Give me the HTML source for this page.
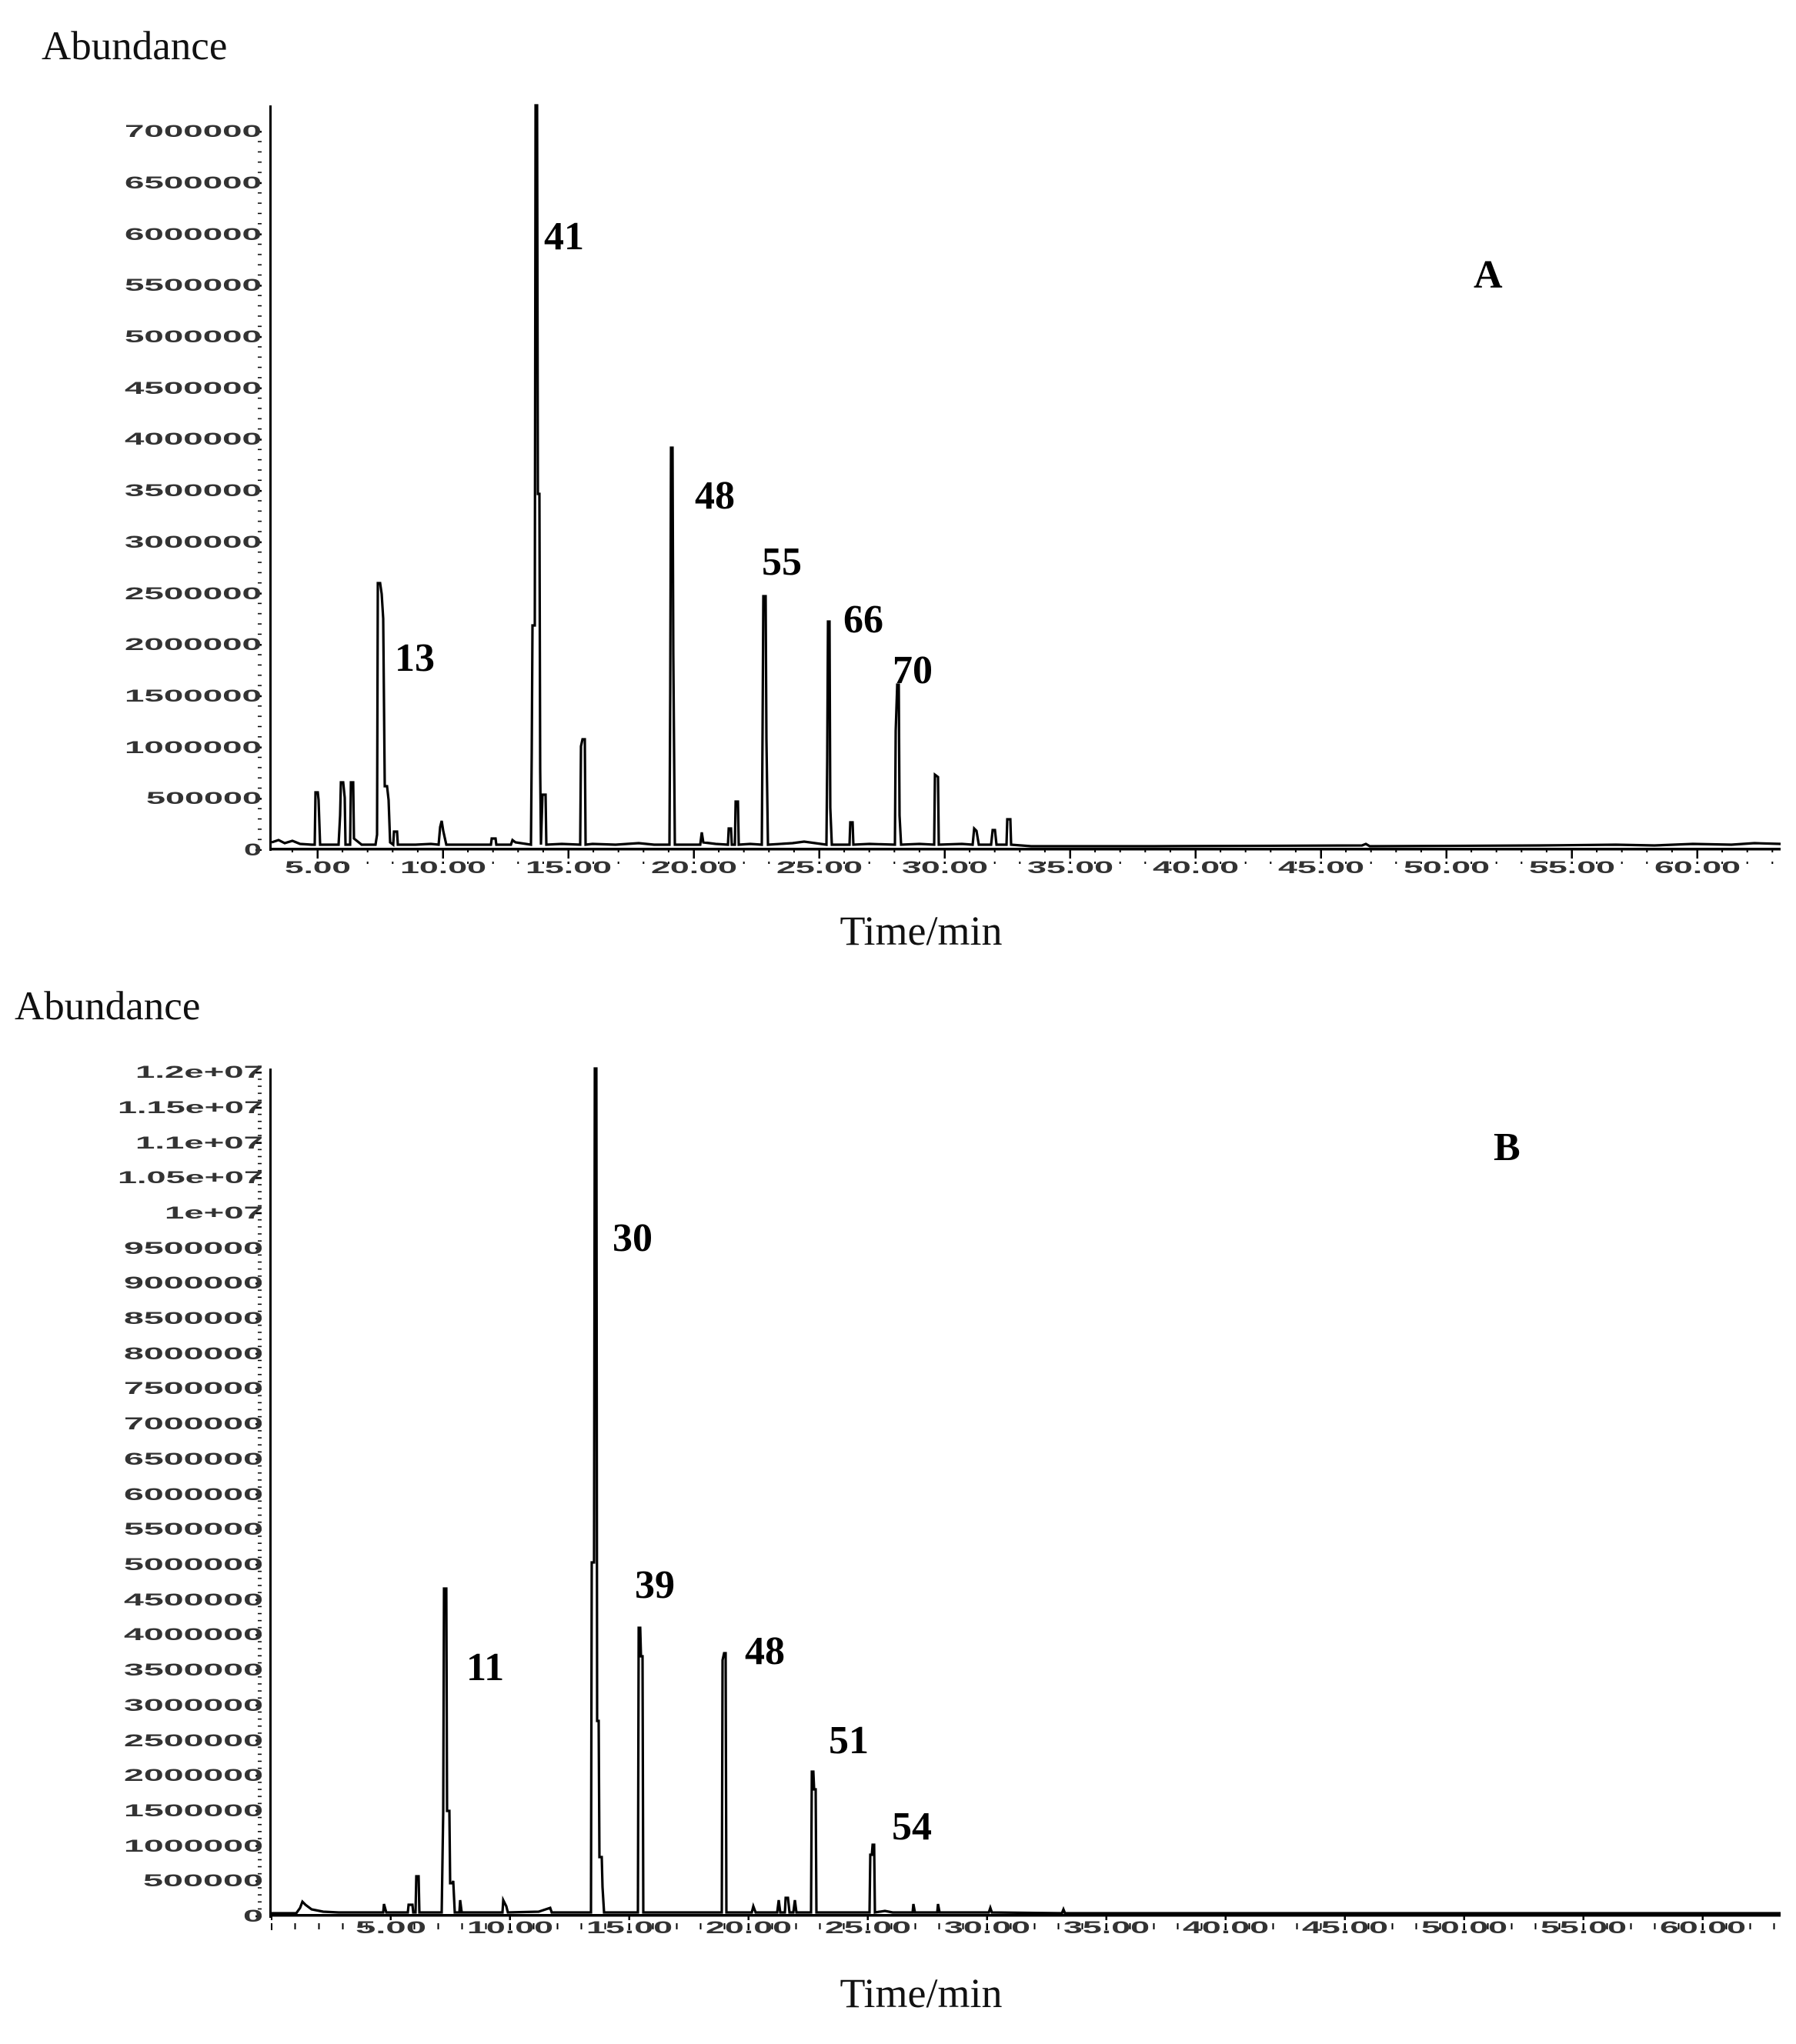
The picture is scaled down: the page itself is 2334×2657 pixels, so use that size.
<!DOCTYPE html>
<html><head><meta charset="utf-8"><style>
html,body{margin:0;padding:0;background:#fff;}
svg{display:block;}
.yl{font-family:"Liberation Sans",sans-serif;font-size:22px;font-weight:bold;fill:#333;text-anchor:end;}
.xl{font-family:"Liberation Sans",sans-serif;font-size:22px;font-weight:bold;fill:#333;text-anchor:middle;}
.ab{font-family:"Liberation Serif",serif;font-size:53px;fill:#111;}
.tm{font-family:"Liberation Serif",serif;font-size:54px;fill:#111;text-anchor:middle;}
.pk{font-family:"Liberation Serif",serif;font-size:52px;font-weight:bold;fill:#000;}
</style></head><body>
<svg width="2334" height="2657" viewBox="0 0 2334 2657" xmlns="http://www.w3.org/2000/svg">
<defs>
<pattern id="ayt" x="0" y="170" width="20" height="66.7" patternUnits="userSpaceOnUse">
<rect x="10" y="0" width="10" height="2.5" fill="#000"/>
<rect x="15" y="13.34" width="5" height="1.5" fill="#000"/>
<rect x="15" y="26.68" width="5" height="1.5" fill="#000"/>
<rect x="15" y="40.02" width="5" height="1.5" fill="#000"/>
<rect x="15" y="53.36" width="5" height="1.5" fill="#000"/>
</pattern>
<pattern id="axt" x="411.5" y="0" width="163" height="20" patternUnits="userSpaceOnUse">
<rect x="0" y="0" width="2.5" height="16" fill="#000"/>
<rect x="32.6" y="0" width="2" height="8" fill="#000"/>
<rect x="65.2" y="0" width="2" height="8" fill="#000"/>
<rect x="97.8" y="0" width="2" height="8" fill="#000"/>
<rect x="130.4" y="0" width="2" height="8" fill="#000"/>
</pattern>
<pattern id="byt" x="0" y="1393" width="20" height="45.7" patternUnits="userSpaceOnUse">
<rect x="10" y="0" width="10" height="2.5" fill="#000"/>
<rect x="15" y="9.14" width="5" height="1.5" fill="#000"/>
<rect x="15" y="18.28" width="5" height="1.5" fill="#000"/>
<rect x="15" y="27.42" width="5" height="1.5" fill="#000"/>
<rect x="15" y="36.56" width="5" height="1.5" fill="#000"/>
</pattern>
<pattern id="bxt" x="351.5" y="0" width="155" height="20" patternUnits="userSpaceOnUse">
<rect x="0" y="0" width="2.5" height="16" fill="#000"/>
<rect x="31" y="0" width="2" height="8" fill="#000"/>
<rect x="62" y="0" width="2" height="8" fill="#000"/>
<rect x="93" y="0" width="2" height="8" fill="#000"/>
<rect x="124" y="0" width="2" height="8" fill="#000"/>
</pattern>
</defs>

<!-- ===== Chart A ===== -->
<text class="ab" x="54" y="77">Abundance</text>
<rect x="332" y="160" width="20" height="946" fill="url(#ayt)"/>
<rect x="350" y="137" width="3" height="969" fill="#000"/>
<rect x="350" y="1102" width="1964" height="3.5" fill="#000"/>
<rect x="352" y="1105" width="1962" height="18" fill="url(#axt)"/>

<text class="yl" x="340" y="1112" textLength="23" lengthAdjust="spacingAndGlyphs">0</text>
<text class="yl" x="340" y="1045" textLength="150" lengthAdjust="spacingAndGlyphs">500000</text>
<text class="yl" x="340" y="979" textLength="178" lengthAdjust="spacingAndGlyphs">1000000</text>
<text class="yl" x="340" y="912" textLength="178" lengthAdjust="spacingAndGlyphs">1500000</text>
<text class="yl" x="340" y="845" textLength="178" lengthAdjust="spacingAndGlyphs">2000000</text>
<text class="yl" x="340" y="779" textLength="178" lengthAdjust="spacingAndGlyphs">2500000</text>
<text class="yl" x="340" y="712" textLength="178" lengthAdjust="spacingAndGlyphs">3000000</text>
<text class="yl" x="340" y="645" textLength="178" lengthAdjust="spacingAndGlyphs">3500000</text>
<text class="yl" x="340" y="578" textLength="178" lengthAdjust="spacingAndGlyphs">4000000</text>
<text class="yl" x="340" y="512" textLength="178" lengthAdjust="spacingAndGlyphs">4500000</text>
<text class="yl" x="340" y="445" textLength="178" lengthAdjust="spacingAndGlyphs">5000000</text>
<text class="yl" x="340" y="378" textLength="178" lengthAdjust="spacingAndGlyphs">5500000</text>
<text class="yl" x="340" y="312" textLength="178" lengthAdjust="spacingAndGlyphs">6000000</text>
<text class="yl" x="340" y="245" textLength="178" lengthAdjust="spacingAndGlyphs">6500000</text>
<text class="yl" x="340" y="178" textLength="178" lengthAdjust="spacingAndGlyphs">7000000</text>

<text class="xl" x="413" y="1135" textLength="86" lengthAdjust="spacingAndGlyphs">5.00</text>
<text class="xl" x="576" y="1135" textLength="112" lengthAdjust="spacingAndGlyphs">10.00</text>
<text class="xl" x="739" y="1135" textLength="112" lengthAdjust="spacingAndGlyphs">15.00</text>
<text class="xl" x="902" y="1135" textLength="112" lengthAdjust="spacingAndGlyphs">20.00</text>
<text class="xl" x="1065" y="1135" textLength="112" lengthAdjust="spacingAndGlyphs">25.00</text>
<text class="xl" x="1228" y="1135" textLength="112" lengthAdjust="spacingAndGlyphs">30.00</text>
<text class="xl" x="1391" y="1135" textLength="112" lengthAdjust="spacingAndGlyphs">35.00</text>
<text class="xl" x="1554" y="1135" textLength="112" lengthAdjust="spacingAndGlyphs">40.00</text>
<text class="xl" x="1717" y="1135" textLength="112" lengthAdjust="spacingAndGlyphs">45.00</text>
<text class="xl" x="1880" y="1135" textLength="112" lengthAdjust="spacingAndGlyphs">50.00</text>
<text class="xl" x="2043" y="1135" textLength="112" lengthAdjust="spacingAndGlyphs">55.00</text>
<text class="xl" x="2206" y="1135" textLength="112" lengthAdjust="spacingAndGlyphs">60.00</text>
<text class="tm" x="1197" y="1228">Time/min</text>

<path fill="none" stroke="#000" stroke-width="3.2" stroke-linejoin="miter" d="M353,1095 L362,1092 L370,1096 L380,1093 L390,1097 L405,1098 L409,1098 L410,1030 L413,1030 L414,1040 L416,1098 L440,1098 L442,1060 L443,1017 L446,1017 L448,1037 L449,1098 L455,1098 L456,1017 L459,1017 L460,1090 L470,1098 L488,1098 L490,1085 L491,758 L494,758 L496,772 L498,804 L500,1022 L503,1022 L505,1040 L507,1095 L511,1098 L512,1081 L516,1081 L517,1098 L540,1098 L560,1097 L570,1098 L572,1075 L574,1067 L576,1080 L580,1098 L638,1098 L639,1090 L644,1090 L645,1098 L664,1098 L666,1092 L670,1095 L690,1098 L691,980 L692,813 L695,813 L696,137 L698,137 L699,642 L701,642 L702,1000 L703,1098 L705,1033 L709,1033 L710,1098 L730,1097 L754,1098 L755,970 L757,961 L760,961 L761,1098 L770,1097 L800,1098 L830,1096 L850,1098 L870,1098 L871,900 L872,582 L874,582 L875,850 L877,1098 L910,1098 L912,1082 L914,1095 L930,1097 L946,1098 L947,1077 L950,1077 L951,1098 L955,1098 L956,1042 L959,1042 L960,1098 L975,1097 L990,1098 L991,950 L992,775 L995,775 L996,960 L998,1098 L1030,1096 L1045,1094 L1074,1098 L1075,990 L1076,808 L1078,808 L1079,1050 L1081,1098 L1104,1098 L1105,1069 L1108,1069 L1109,1098 L1130,1097 L1163,1098 L1164,950 L1166,890 L1168,890 L1169,1060 L1171,1098 L1195,1097 L1214,1098 L1215,1007 L1219,1010 L1220,1098 L1250,1097 L1264,1098 L1266,1077 L1269,1080 L1272,1098 L1288,1098 L1290,1079 L1293,1079 L1295,1098 L1308,1098 L1309,1065 L1313,1065 L1314,1098 L1340,1100 L1400,1100 L1500,1100 L1770,1099 L1775,1097 L1780,1100 L2000,1099 L2100,1098 L2150,1099 L2200,1097 L2250,1098 L2280,1096 L2314,1097"/>

<text class="pk" x="707" y="324">41</text>
<text class="pk" x="513" y="872">13</text>
<text class="pk" x="903" y="661">48</text>
<text class="pk" x="990" y="747">55</text>
<text class="pk" x="1096" y="822">66</text>
<text class="pk" x="1160" y="888">70</text>
<text class="pk" x="1915" y="374">A</text>

<!-- ===== Chart B ===== -->
<text class="ab" x="19" y="1325">Abundance</text>
<rect x="332" y="1385" width="20" height="1108" fill="url(#byt)"/>
<rect x="350" y="1389" width="3" height="1104" fill="#000"/>
<rect x="350" y="2488" width="1964" height="3.5" fill="#000"/>
<rect x="352" y="2491" width="1962" height="18" fill="url(#bxt)"/>

<text class="yl" x="342" y="2498" textLength="26" lengthAdjust="spacingAndGlyphs">0</text>
<text class="yl" x="342" y="2452" textLength="156" lengthAdjust="spacingAndGlyphs">500000</text>
<text class="yl" x="342" y="2407" textLength="181" lengthAdjust="spacingAndGlyphs">1000000</text>
<text class="yl" x="342" y="2361" textLength="181" lengthAdjust="spacingAndGlyphs">1500000</text>
<text class="yl" x="342" y="2315" textLength="181" lengthAdjust="spacingAndGlyphs">2000000</text>
<text class="yl" x="342" y="2270" textLength="181" lengthAdjust="spacingAndGlyphs">2500000</text>
<text class="yl" x="342" y="2224" textLength="181" lengthAdjust="spacingAndGlyphs">3000000</text>
<text class="yl" x="342" y="2178" textLength="181" lengthAdjust="spacingAndGlyphs">3500000</text>
<text class="yl" x="342" y="2132" textLength="181" lengthAdjust="spacingAndGlyphs">4000000</text>
<text class="yl" x="342" y="2087" textLength="181" lengthAdjust="spacingAndGlyphs">4500000</text>
<text class="yl" x="342" y="2041" textLength="181" lengthAdjust="spacingAndGlyphs">5000000</text>
<text class="yl" x="342" y="1995" textLength="181" lengthAdjust="spacingAndGlyphs">5500000</text>
<text class="yl" x="342" y="1950" textLength="181" lengthAdjust="spacingAndGlyphs">6000000</text>
<text class="yl" x="342" y="1904" textLength="181" lengthAdjust="spacingAndGlyphs">6500000</text>
<text class="yl" x="342" y="1858" textLength="181" lengthAdjust="spacingAndGlyphs">7000000</text>
<text class="yl" x="342" y="1812" textLength="181" lengthAdjust="spacingAndGlyphs">7500000</text>
<text class="yl" x="342" y="1767" textLength="181" lengthAdjust="spacingAndGlyphs">8000000</text>
<text class="yl" x="342" y="1721" textLength="181" lengthAdjust="spacingAndGlyphs">8500000</text>
<text class="yl" x="342" y="1675" textLength="181" lengthAdjust="spacingAndGlyphs">9000000</text>
<text class="yl" x="342" y="1630" textLength="181" lengthAdjust="spacingAndGlyphs">9500000</text>
<text class="yl" x="342" y="1584" textLength="128" lengthAdjust="spacingAndGlyphs">1e+07</text>
<text class="yl" x="342" y="1538" textLength="189" lengthAdjust="spacingAndGlyphs">1.05e+07</text>
<text class="yl" x="342" y="1493" textLength="166" lengthAdjust="spacingAndGlyphs">1.1e+07</text>
<text class="yl" x="342" y="1447" textLength="189" lengthAdjust="spacingAndGlyphs">1.15e+07</text>
<text class="yl" x="342" y="1401" textLength="166" lengthAdjust="spacingAndGlyphs">1.2e+07</text>

<text class="xl" x="508" y="2513" textLength="92" lengthAdjust="spacingAndGlyphs">5.00</text>
<text class="xl" x="663" y="2513" textLength="112" lengthAdjust="spacingAndGlyphs">10.00</text>
<text class="xl" x="818" y="2513" textLength="112" lengthAdjust="spacingAndGlyphs">15.00</text>
<text class="xl" x="973" y="2513" textLength="112" lengthAdjust="spacingAndGlyphs">20.00</text>
<text class="xl" x="1128" y="2513" textLength="112" lengthAdjust="spacingAndGlyphs">25.00</text>
<text class="xl" x="1283" y="2513" textLength="112" lengthAdjust="spacingAndGlyphs">30.00</text>
<text class="xl" x="1438" y="2513" textLength="112" lengthAdjust="spacingAndGlyphs">35.00</text>
<text class="xl" x="1593" y="2513" textLength="112" lengthAdjust="spacingAndGlyphs">40.00</text>
<text class="xl" x="1748" y="2513" textLength="112" lengthAdjust="spacingAndGlyphs">45.00</text>
<text class="xl" x="1903" y="2513" textLength="112" lengthAdjust="spacingAndGlyphs">50.00</text>
<text class="xl" x="2058" y="2513" textLength="112" lengthAdjust="spacingAndGlyphs">55.00</text>
<text class="xl" x="2213" y="2513" textLength="112" lengthAdjust="spacingAndGlyphs">60.00</text>
<text class="tm" x="1197" y="2609">Time/min</text>

<path fill="none" stroke="#000" stroke-width="3.2" stroke-linejoin="miter" d="M353,2487 L385,2487 L390,2480 L393,2472 L397,2476 L405,2482 L420,2485 L440,2486 L498,2486 L499,2475 L502,2486 L530,2486 L531,2476 L536,2476 L537,2486 L540,2486 L541,2439 L544,2439 L545,2486 L574,2486 L575,2420 L576,2354 L577,2065 L580,2065 L581,2354 L584,2354 L585,2448 L588,2448 L589,2445 L591,2486 L597,2486 L598,2470 L600,2486 L653,2486 L654,2470 L658,2478 L660,2486 L700,2485 L715,2480 L717,2486 L768,2486 L769,2031 L772,2031 L773,1389 L775,1389 L776,2237 L778,2237 L779,2414 L782,2414 L783,2453 L785,2486 L829,2486 L830,2116 L832,2116 L833,2153 L835,2153 L836,2486 L938,2486 L939,2158 L941,2149 L943,2149 L944,2486 L977,2486 L979,2478 L982,2486 L1010,2486 L1012,2470 L1014,2486 L1020,2486 L1021,2467 L1024,2467 L1026,2486 L1031,2486 L1033,2470 L1035,2486 L1054,2486 L1055,2303 L1057,2303 L1058,2326 L1060,2326 L1061,2486 L1130,2486 L1131,2411 L1133,2411 L1134,2398 L1136,2398 L1137,2486 L1150,2484 L1160,2486 L1186,2486 L1187,2475 L1189,2486 L1218,2486 L1219,2475 L1221,2486 L1285,2486 L1287,2480 L1289,2486 L1380,2487 L1382,2482 L1384,2487 L2314,2487"/>

<text class="pk" x="796" y="1626">30</text>
<text class="pk" x="606" y="2184">11</text>
<text class="pk" x="825" y="2077">39</text>
<text class="pk" x="968" y="2163">48</text>
<text class="pk" x="1077" y="2279">51</text>
<text class="pk" x="1159" y="2391">54</text>
<text class="pk" x="1941" y="1508">B</text>
</svg>
</body></html>
